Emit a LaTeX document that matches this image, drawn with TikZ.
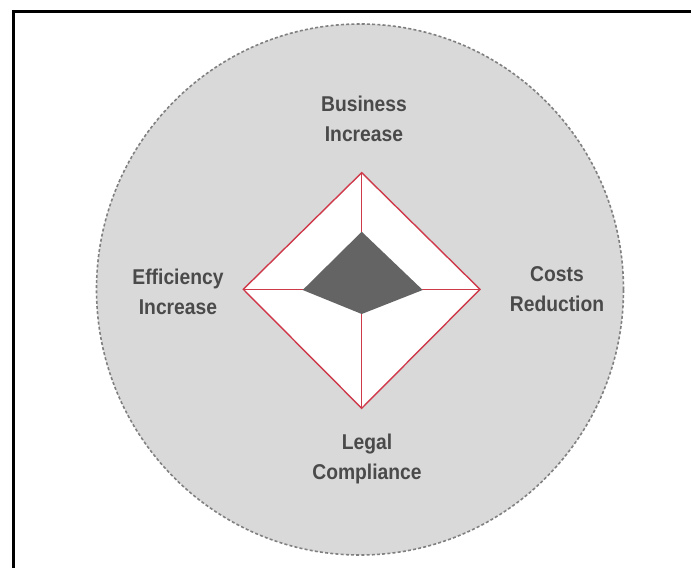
\documentclass[tikz,border=0pt]{standalone}
\usepackage{fontspec}
\usetikzlibrary{shapes.geometric}
\newfontfamily\labelfont[FakeStretch=0.9]{Liberation Sans}
\definecolor{bggray}{HTML}{D9D9D9}
\definecolor{dashgray}{HTML}{808080}
\definecolor{diared}{HTML}{CF3A4A}
\definecolor{innergray}{HTML}{646464}
\definecolor{txtgray}{HTML}{4A4A4A}
\tikzset{
  lbl/.style={font=\labelfont\bfseries\fontsize{21.5}{29.5}\selectfont, text=txtgray, align=center, inner sep=0pt},
  redline/.style={draw=diared, line width=1.4bp},
}
\begin{document}
\begin{tikzpicture}[x=1bp,y=-1bp]
\useasboundingbox (0,0) rectangle (691,568);
% frame (only top and left edges visible)
\begin{scope}
\clip (0,0) rectangle (691,568);
\draw[line width=2.6bp, black] (13.3,11.3) rectangle (720,600);
\end{scope}
% background circle
\node[ellipse, minimum width=527bp, minimum height=531bp, inner sep=0pt, fill=bggray, draw=dashgray, line width=1.6bp, dash pattern=on 3bp off 2.2bp] (disc) at (360,289.5) {};
% diamond vertices
\coordinate (T) at (361.7,172.7);
\coordinate (L) at (243.3,289.3);
\coordinate (R) at (480,289.3);
\coordinate (B) at (361.7,408.3);
\fill[white] (T) -- (R) -- (B) -- (L) -- cycle;
\draw[redline] (T) -- (B);
\draw[redline] (L) -- (R);
\draw[redline, line join=miter] (T) -- (R) -- (B) -- (L) -- cycle;
% inner data polygon
\coordinate (iT) at (361.7,231.7);
\coordinate (iR) at (422.7,290);
\coordinate (iB) at (361.7,314);
\coordinate (iL) at (302.7,290);
\fill[innergray] (iT) -- (iR) -- (iB) -- (iL) -- cycle;
% labels
\node[lbl] (business) at (364,119) {Business\\Increase};
\node[lbl] (efficiency) at (178,292) {Efficiency\\Increase};
\node[lbl] (costs) at (557,289) {Costs\\Reduction};
\node[lbl] (legal) at (367,459) {Legal\\Compliance};
\end{tikzpicture}
\end{document}
